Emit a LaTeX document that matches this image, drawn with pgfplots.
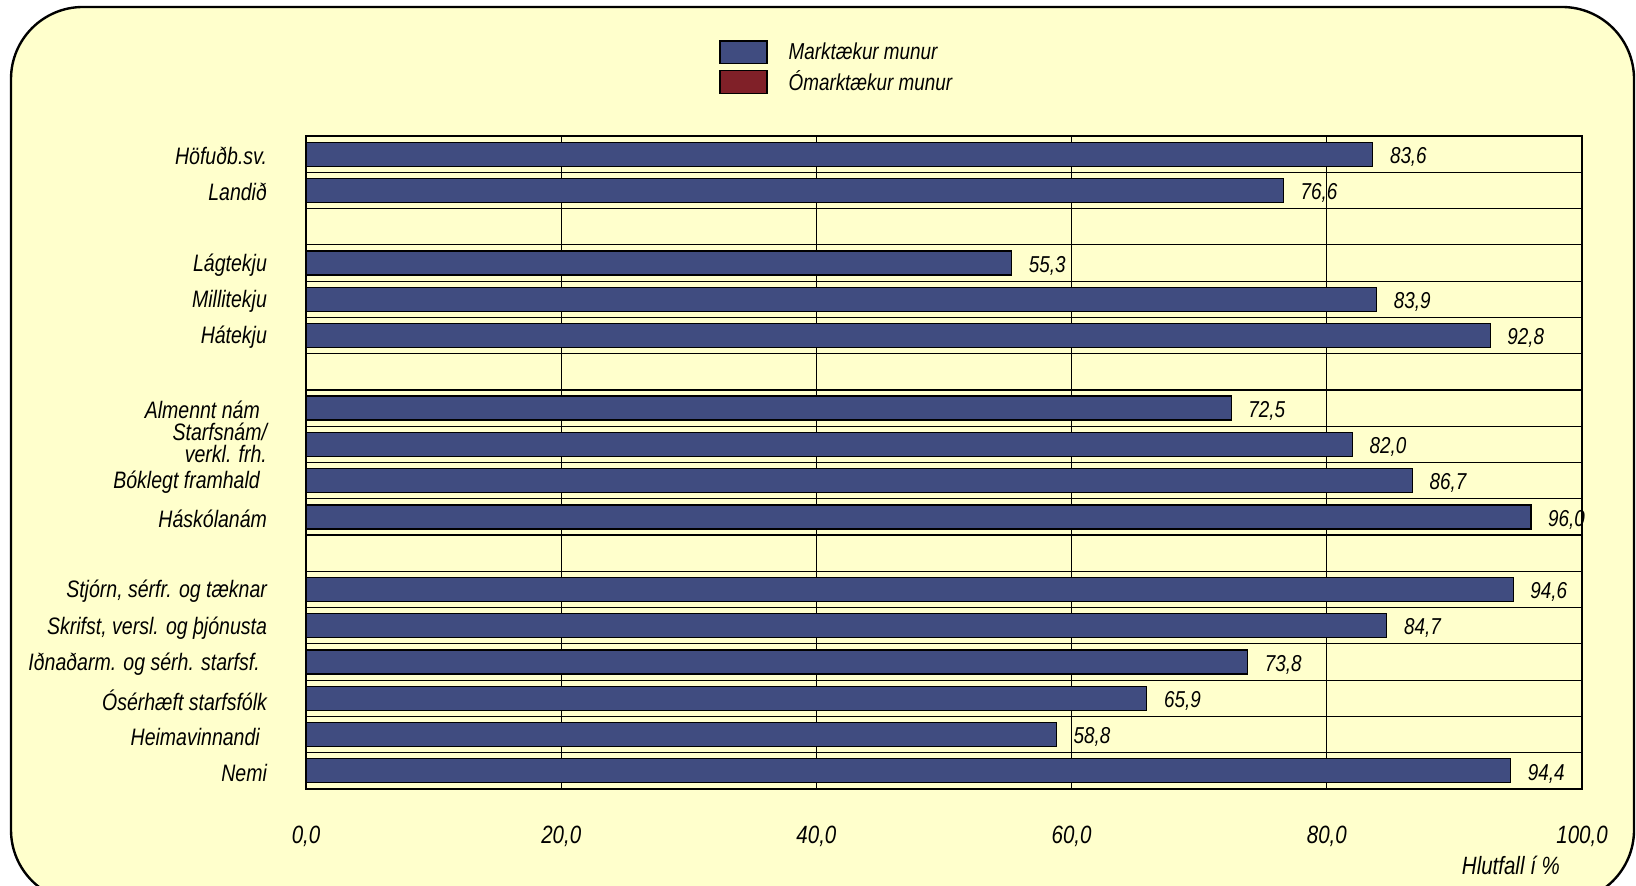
\documentclass[border=0pt]{standalone}
\usepackage{pgfplots}
\pgfplotsset{compat=1.18}
\usepackage{fontspec}
\setmainfont{Liberation Sans}[FakeStretch=0.82]
\definecolor{bgy}{RGB}{255,255,204}
\definecolor{barblue}{RGB}{64,76,128}
\definecolor{darkred}{RGB}{128,32,40}
\begin{document}
\begin{tikzpicture}
\path[use as bounding box] (0,0) rectangle (818pt,443pt);
\draw[line width=1.2pt, fill=bgy, rounded corners=36pt] (5.5pt,-8pt) rectangle (817pt,439.5pt);
\begin{axis}[
  at={(153pt,48.5pt)}, anchor=south west,
  scale only axis, width=638pt, height=326.5pt,
  xmin=0, xmax=100, ymin=0.5, ymax=18.5, y dir=reverse,
  clip=false,
  axis line style={black, line width=0.8pt},
  xtick={0,20,40,60,80,100},
  xmajorgrids, grid style={black, line width=0.6pt},
  minor grid style={black, line width=0.6pt},
  ytick={1,2,4,5,6,8,9,10,11,13,14,15,16,17,18},
  yticklabels={H\"ofu\dh b.sv., Landi\dh, L\'agtekju, Millitekju, H\'atekju,
    Almennt n\'am\hspace*{0.3em}, {\raisebox{1.5pt}{\begin{tabular}{@{}r@{}}Starfsn\'am/\\[-2.5pt]verkl. frh.\end{tabular}}}, B\'oklegt framhald\hspace*{0.3em}, H\'ask\'olan\'am,
    {Stj\'orn, s\'erfr. og t\ae knar}, {Skrifst, versl. og \th j\'onusta}, I\dh na\dh arm. og s\'erh. starfsf.\hspace*{0.3em},
    \'Os\'erh\ae ft starfsf\'olk, Heimavinnandi\hspace*{0.3em}, Nemi},
  minor ytick={0.5,1.5,...,18.5},
  yminorgrids,
  major tick length=0pt, minor tick length=0pt,
  /pgf/number format/.cd, fixed, fixed zerofill, precision=1, use comma, assume math mode=true,
  /pgfplots/.cd,
  yticklabel style={font=\fontsize{11.9}{13.6}\selectfont\itshape, align=right, xshift=-16pt, yshift=-1pt},
  xticklabel style={font=\fontsize{12.5}{14}\selectfont\itshape, yshift=-15pt},
  xlabel={Hlutfall \'i \%},
  xlabel style={at={(axis description cs:0.983,-0.1164)}, anchor=east, inner sep=0pt, font=\fontsize{12.5}{14}\selectfont\itshape},
  legend style={at={(0.319,1.153)}, anchor=north west, draw=none, fill=none,
    font=\fontsize{11.5}{14}\selectfont\itshape, row sep=2pt, nodes={inner sep=1pt}},
  legend cell align=left,
  legend image code/.code={\draw[#1, draw=black, line width=0.6pt] (0pt,-5.7pt) rectangle (23.5pt,5.7pt); \path (33pt,0pt);},
]
\addplot[xbar, bar width=12pt, fill=barblue, draw=black, line width=0.6pt,
  point meta=x, nodes near coords,
  every node near coord/.append style={font=\fontsize{11.5}{14}\selectfont\itshape, xshift=5pt, yshift=-1.3pt}]
  coordinates {(83.6,1) (76.6,2) (55.3,4) (83.9,5) (92.8,6) (72.5,8) (82.0,9) (86.7,10) (96.0,11)
    (94.6,13) (84.7,14) (73.8,15) (65.9,16) (58.8,17) (94.4,18)};
\addlegendentry{Markt\ae kur munur}
\addlegendimage{fill=darkred}
\addlegendentry{\'Omarkt\ae kur munur}
\end{axis}
\end{tikzpicture}
\end{document}
